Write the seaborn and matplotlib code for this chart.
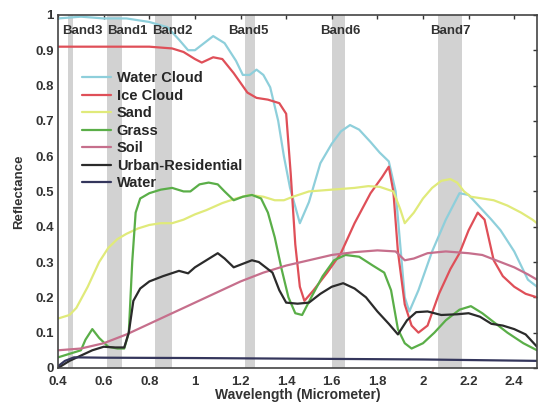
import numpy as np
import pandas as pd
import matplotlib
matplotlib.use('Agg')
import matplotlib.pyplot as plt
from matplotlib.ticker import FormatStrFormatter
import seaborn as sns

# Curvas de reflectancia
wc_x = [0.4, 0.5, 0.6, 0.7, 0.8, 0.88, 0.93, 0.97, 1.0, 1.04, 1.08, 1.13, 1.18, 1.21, 1.24, 1.27, 1.3, 1.33,
        1.365, 1.39, 1.417, 1.46, 1.5, 1.55, 1.6, 1.64, 1.68, 1.72, 1.77, 1.81, 1.85, 1.88, 1.9, 1.92, 1.94,
        1.98, 2.04, 2.1, 2.16, 2.2, 2.25, 2.3, 2.34, 2.4, 2.46, 2.5]
wc_y = [0.99, 0.995, 0.99, 0.99, 0.98, 0.965, 0.93, 0.9, 0.9, 0.92, 0.94, 0.92, 0.87, 0.83, 0.83, 0.845, 0.83, 0.795,
        0.70, 0.6, 0.51, 0.41, 0.47, 0.58, 0.635, 0.67, 0.688, 0.675, 0.64, 0.61, 0.585, 0.5, 0.35, 0.2, 0.16,
        0.22, 0.33, 0.42, 0.495, 0.49, 0.455, 0.42, 0.39, 0.33, 0.25, 0.23]

ic_x = [0.4, 0.6, 0.8, 0.9, 0.95, 1.0, 1.03, 1.08, 1.12, 1.17, 1.23, 1.27, 1.32, 1.37, 1.40, 1.42, 1.44, 1.46,
        1.48, 1.52, 1.58, 1.64, 1.7, 1.77, 1.82, 1.85, 1.87, 1.89, 1.92, 1.95, 1.98, 2.02, 2.07, 2.12, 2.16,
        2.2, 2.24, 2.27, 2.31, 2.35, 2.4, 2.45, 2.5]
ic_y = [0.91, 0.91, 0.91, 0.905, 0.895, 0.875, 0.865, 0.88, 0.875, 0.835, 0.78, 0.765, 0.76, 0.75, 0.72, 0.55,
        0.35, 0.23, 0.19, 0.22, 0.27, 0.325, 0.41, 0.495, 0.54, 0.57, 0.5, 0.33, 0.18, 0.12, 0.1, 0.12, 0.21,
        0.28, 0.325, 0.39, 0.44, 0.42, 0.305, 0.26, 0.23, 0.21, 0.2]

sand_x = [0.4, 0.45, 0.48, 0.53, 0.58, 0.62, 0.66, 0.7, 0.75, 0.8, 0.85, 0.9, 0.95, 1.0, 1.05, 1.12, 1.18, 1.24,
          1.3, 1.35, 1.39, 1.43, 1.5, 1.6, 1.7, 1.76, 1.81, 1.87, 1.9, 1.92, 1.96, 2.0, 2.04, 2.08, 2.12, 2.15,
          2.18, 2.21, 2.26, 2.31, 2.37, 2.43, 2.48, 2.5]
sand_y = [0.14, 0.15, 0.17, 0.23, 0.3, 0.34, 0.365, 0.38, 0.395, 0.405, 0.41, 0.41, 0.42, 0.435, 0.447, 0.467,
          0.48, 0.49, 0.485, 0.475, 0.475, 0.485, 0.5, 0.505, 0.51, 0.515, 0.513, 0.5, 0.45, 0.41, 0.44, 0.48,
          0.51, 0.53, 0.535, 0.525, 0.5, 0.485, 0.48, 0.475, 0.46, 0.44, 0.42, 0.41]

grass_x = [0.4, 0.45, 0.5, 0.52, 0.55, 0.58, 0.62, 0.66, 0.69, 0.71, 0.725, 0.74, 0.76, 0.8, 0.85, 0.9, 0.95,
           0.98, 1.02, 1.06, 1.1, 1.13, 1.17, 1.21, 1.25, 1.29, 1.32, 1.35, 1.38, 1.41, 1.44, 1.47, 1.51, 1.56,
           1.61, 1.66, 1.72, 1.78, 1.83, 1.86, 1.89, 1.92, 1.95, 2.0, 2.05, 2.1, 2.16, 2.21, 2.26, 2.31, 2.37,
           2.44, 2.5]
grass_y = [0.03, 0.04, 0.05, 0.08, 0.11, 0.085, 0.06, 0.055, 0.055, 0.1, 0.3, 0.44, 0.48, 0.495, 0.505, 0.51,
           0.5, 0.5, 0.52, 0.525, 0.52, 0.5, 0.475, 0.485, 0.49, 0.48, 0.44, 0.37, 0.28, 0.2, 0.155, 0.15, 0.2,
           0.26, 0.305, 0.32, 0.315, 0.29, 0.27, 0.22, 0.11, 0.07, 0.055, 0.07, 0.1, 0.135, 0.165, 0.175, 0.155,
           0.13, 0.1, 0.07, 0.05]

soil_x = [0.4, 0.5, 0.6, 0.7, 0.8, 0.9, 1.0, 1.1, 1.2, 1.3, 1.4, 1.5, 1.6, 1.7, 1.8, 1.88, 1.92, 1.96, 2.02,
          2.1, 2.2, 2.26, 2.32, 2.4, 2.46, 2.5]
soil_y = [0.05, 0.055, 0.07, 0.095, 0.125, 0.155, 0.185, 0.215, 0.245, 0.27, 0.29, 0.305, 0.32, 0.328, 0.333,
          0.33, 0.305, 0.31, 0.325, 0.33, 0.325, 0.32, 0.305, 0.285, 0.265, 0.25]

urban_x = [0.4, 0.45, 0.5, 0.55, 0.6, 0.65, 0.69, 0.71, 0.73, 0.76, 0.8, 0.86, 0.93, 0.97, 1.0, 1.05, 1.1, 1.13,
           1.17, 1.21, 1.25, 1.28, 1.31, 1.34, 1.37, 1.4, 1.45, 1.5, 1.55, 1.6, 1.65, 1.7, 1.75, 1.8, 1.85,
           1.89, 1.93, 1.97, 2.02, 2.08, 2.15, 2.2, 2.25, 2.3, 2.35, 2.4, 2.45, 2.5]
urban_y = [0.0, 0.02, 0.035, 0.05, 0.06, 0.058, 0.058, 0.1, 0.19, 0.225, 0.245, 0.26, 0.275, 0.268, 0.285,
           0.305, 0.325, 0.31, 0.285, 0.295, 0.305, 0.3, 0.285, 0.27, 0.22, 0.185, 0.182, 0.185, 0.21, 0.23,
           0.24, 0.225, 0.2, 0.16, 0.125, 0.095, 0.135, 0.158, 0.16, 0.15, 0.152, 0.155, 0.145, 0.125, 0.12,
           0.11, 0.095, 0.06]

water_x = [0.4, 0.43, 0.47, 0.6, 1.0, 1.5, 2.0, 2.5]
water_y = [0.005, 0.02, 0.03, 0.029, 0.028, 0.026, 0.024, 0.02]

series = {
    'Water Cloud': (wc_x, wc_y),
    'Ice Cloud': (ic_x, ic_y),
    'Sand': (sand_x, sand_y),
    'Grass': (grass_x, grass_y),
    'Soil': (soil_x, soil_y),
    'Urban-Residential': (urban_x, urban_y),
    'Water': (water_x, water_y),
}
colores = ['#8ecfdb', '#df4f58', '#e0ea7a', '#5aae48', '#c66f8c', '#2b2b2b', '#34365c']

# Bandas (inicio, fin, etiqueta, posicion de la etiqueta)
band_ini = [0.444, 0.615, 0.825, 1.22, 1.60, 2.067]
band_fin = [0.466, 0.68, 0.90, 1.264, 1.66, 2.17]
band_txt = ['Band3', 'Band1', 'Band2', 'Band5', 'Band6', 'Band7']
band_pos = [0.505, 0.705, 0.90, 1.233, 1.637, 2.12]

# Armar dataframe largo
filas = []
for nombre, (xs, ys) in series.items():
    for x, y in zip(xs, ys):
        filas.append({'wl': x, 'refl': y, 'tipo': nombre})
df = pd.DataFrame(filas)

sns.set_theme(style='white')
plt.rcParams['font.family'] = ['Liberation Sans', 'DejaVu Sans']
plt.rcParams['font.weight'] = 'bold'

fig, ax = plt.subplots(figsize=(5.43, 4.03), dpi=100)
fig.subplots_adjust(left=0.107, right=0.989, bottom=0.087, top=0.963)

for a, b in zip(band_ini, band_fin):
    ax.axvspan(a, b, color='#d2d2d2', lw=0, zorder=0)

sns.lineplot(data=df, x='wl', y='refl', hue='tipo', palette=dict(zip(series.keys(), colores)),
             sort=False, estimator=None, lw=1.6, ax=ax)

for t, p in zip(band_txt, band_pos):
    ax.text(p, 0.955, t, ha='center', va='center', fontsize=9.5, fontweight='bold', color='#333333')

ax.set_xlim(0.4, 2.5)
ax.set_ylim(0, 1)
ax.set_xticks(np.arange(0.4, 2.41, 0.2))
ax.set_yticks(np.arange(0, 1.01, 0.1))
ax.xaxis.set_major_formatter(FormatStrFormatter('%g'))
ax.yaxis.set_major_formatter(FormatStrFormatter('%g'))
ax.tick_params(direction='in', length=3, width=1, top=True, right=True, labelsize=9.5, colors='#333333')
ax.tick_params(axis='x', pad=6)
ax.tick_params(axis='y', pad=3)
for lab in ax.get_xticklabels() + ax.get_yticklabels():
    lab.set_fontweight('bold')
for s in ax.spines.values():
    s.set_color('#444444')
    s.set_linewidth(1.2)

ax.set_xlabel('Wavelength (Micrometer)', fontsize=10, fontweight='bold', labelpad=0, color='#333333')
ax.set_ylabel('Reflectance', fontsize=9.5, fontweight='bold', labelpad=7, color='#333333')

ax.legend(loc='upper left', bbox_to_anchor=(0.037, 0.857), frameon=False,
          handlelength=2.0, handletextpad=0.4, labelspacing=0.24, borderaxespad=0,
          prop={'weight': 'bold', 'size': 10.5})

plt.savefig('out.png', dpi=100)
